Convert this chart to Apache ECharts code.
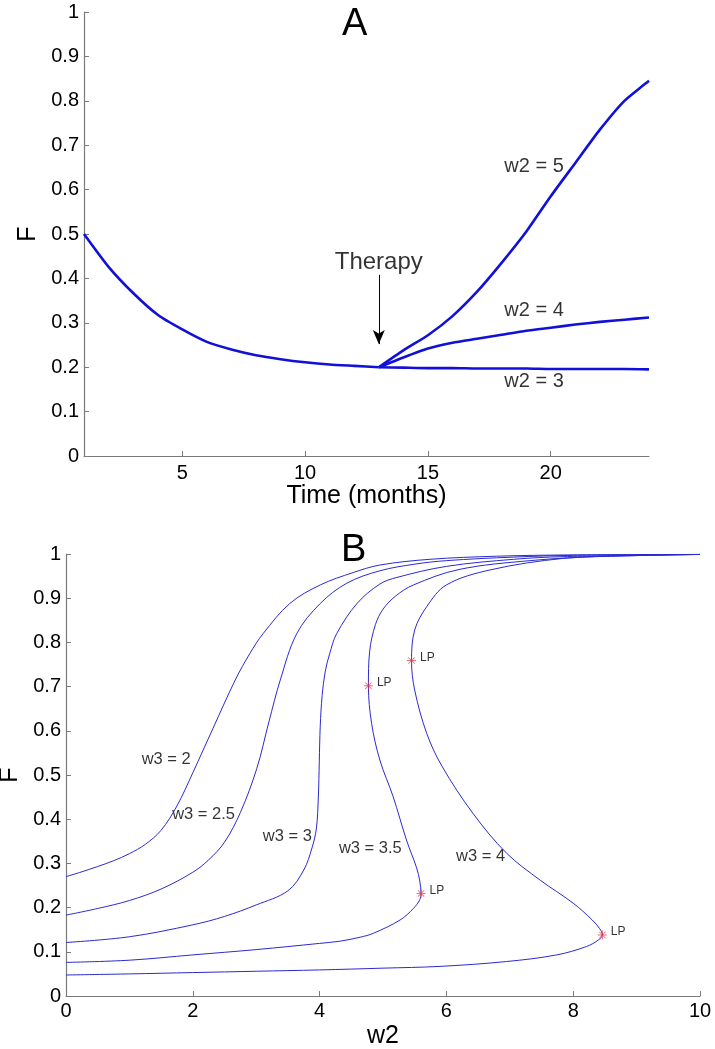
<!DOCTYPE html>
<html>
<head>
<meta charset="utf-8">
<script src="https://cdn.jsdelivr.net/npm/echarts@6/dist/echarts.min.js"></script>
<style>
html,body{margin:0;padding:0;background:#fff;}
#chart{width:715px;height:1049px;}
</style>
</head>
<body>
<div id="chart"></div>
<script>
// ---------- Panel A data ----------
var timeBase = [1,2,3,4,5,6,7,8,9,10,11,12,13];
var fBase = [0.500,0.426,0.367,0.318,0.285,0.257,0.240,0.227,0.218,0.211,0.206,0.203,0.200];
var timeTherapy = [13,14,15,16,17,18,19,20,21,22,23,24];
var fW2eq3 = [0.200,0.199,0.198,0.198,0.197,0.197,0.197,0.196,0.196,0.196,0.196,0.195];
var fW2eq4 = [0.200,0.222,0.242,0.255,0.264,0.273,0.282,0.289,0.296,0.302,0.307,0.312];
var fW2eq5 = [0.200,0.238,0.272,0.315,0.370,0.435,0.505,0.585,0.660,0.735,0.800,0.845];
var xTicksA = [5,10,15,20];
var labelsA = [[19.32,0.651,'w2 = 5'],[19.32,0.327,'w2 = 4'],[19.32,0.167,'w2 = 3'],[13.0,0.437,'Therapy']];
var therapyArrow = [[13,0.408],[13,0.252]];

// ---------- Panel B data (w2, F) ----------
var w3eq2 = [[0,0.270],[0.25,0.281],[0.5,0.293],[0.75,0.306],[1.0,0.322],[1.25,0.343],[1.5,0.375],[1.75,0.430],[2.0,0.505],[2.32,0.606],[2.67,0.715],[2.9,0.775],[3.11,0.820],[3.53,0.888],[4.01,0.930],[4.53,0.958],[4.95,0.975],[5.74,0.988],[6.79,0.995],[8,0.998],[10,0.999]];
var w3eq25 = [[0,0.183],[0.5,0.198],[1,0.216],[1.5,0.242],[2,0.280],[2.25,0.308],[2.5,0.348],[2.75,0.415],[3.01,0.515],[3.2,0.620],[3.38,0.715],[3.64,0.820],[4.01,0.888],[4.43,0.934],[4.95,0.962],[5.5,0.977],[6.0,0.985],[7.06,0.993],[8,0.997],[10,0.999]];
var w3eq3 = [[0,0.121],[1,0.134],[2,0.161],[2.5,0.180],[3,0.206],[3.5,0.238],[3.75,0.285],[3.88,0.335],[3.95,0.380],[3.98,0.450],[3.995,0.530],[4.01,0.610],[4.04,0.680],[4.09,0.735],[4.16,0.775],[4.27,0.820],[4.59,0.888],[4.95,0.932],[5.22,0.947],[6.0,0.972],[7.06,0.988],[7.84,0.994],[10,0.999]];
var w3eq35 = [[0,0.076],[1,0.081],[2,0.093],[3,0.105],[4,0.119],[4.32,0.124],[4.64,0.133],[4.85,0.142],[5.27,0.172],[5.48,0.198],[5.58,0.218],[5.60,0.232],[5.58,0.260],[5.53,0.290],[5.37,0.353],[5.16,0.451],[4.95,0.534],[4.82,0.617],[4.77,0.702],[4.79,0.780],[4.88,0.840],[5.0,0.875],[5.2,0.905],[5.48,0.930],[6.2,0.965],[7.32,0.985],[8.37,0.994],[10,0.999]];
var w3eq4 = [[0,0.0475],[1,0.050],[2,0.053],[3,0.056],[4,0.059],[5,0.063],[5.9,0.067],[6.95,0.078],[7.74,0.093],[8.21,0.112],[8.40,0.127],[8.46,0.138],[8.42,0.152],[8.30,0.172],[8.0,0.210],[7.48,0.262],[6.95,0.323],[6.42,0.413],[5.93,0.520],[5.69,0.594],[5.50,0.692],[5.45,0.759],[5.50,0.828],[5.69,0.881],[6.0,0.930],[6.69,0.964],[7.84,0.990],[8.9,0.996],[10,0.999]];
var lpPoints = [[4.77,0.702],[5.45,0.759],[5.60,0.232],[8.46,0.138]];
var labelsB = [[1.58,0.536,'w3 = 2'],[2.17,0.410,'w3 = 2.5'],[3.49,0.360,'w3 = 3'],[4.80,0.334,'w3 = 3.5'],[6.54,0.315,'w3 = 4']];

var FONT = 'Liberation Sans, Arial, Helvetica, sans-serif';
var AXIS_COLOR = '#7a7a7a';
var BLUE_A = '#1010d8';
var BLUE_B = '#2a2ad0';

function zip(xs, ys){ return xs.map(function(x,i){ return [x, ys[i]]; }); }

var asterisk = 'path://M9,0h2v20h-2z M0,9h20v2h-20z M2.2,3.6l1.4,-1.4l14.2,14.2l-1.4,1.4z M3.6,17.8l-1.4,-1.4l14.2,-14.2l1.4,1.4z';

function axisCommon(){
  return {
    axisLine:{show:true, onZero:false, lineStyle:{color:AXIS_COLOR, width:1.2}},
    axisTick:{show:true, inside:true, length:5, lineStyle:{color:AXIS_COLOR}},
    splitLine:{show:false}
  };
}

var xA = Object.assign(axisCommon(), {
  type:'value', gridIndex:0, min:1, max:24,
  name:'Time (months)', nameLocation:'middle', nameGap:28,
  nameTextStyle:{fontFamily:FONT, fontSize:25, color:'#000'},
  axisLabel:{customValues:xTicksA, fontFamily:FONT, fontSize:20, color:'#000', margin:7}
});
xA.axisTick.customValues = xTicksA;

var yA = Object.assign(axisCommon(), {
  type:'value', gridIndex:0, min:0, max:1, interval:0.1,
  name:'F', nameLocation:'middle', nameGap:31, nameRotate:90,
  nameTextStyle:{fontFamily:FONT, fontSize:25, color:'#000'},
  axisLabel:{fontFamily:FONT, fontSize:20, color:'#000', margin:5}
});

var xB = Object.assign(axisCommon(), {
  type:'value', gridIndex:1, min:0, max:10, interval:2,
  name:'w2', nameLocation:'middle', nameGap:28,
  nameTextStyle:{fontFamily:FONT, fontSize:25, color:'#000'},
  axisLabel:{fontFamily:FONT, fontSize:20, color:'#000', margin:5}
});

var yB = Object.assign(axisCommon(), {
  type:'value', gridIndex:1, min:0, max:1, interval:0.1,
  name:'F', nameLocation:'middle', nameGap:40, nameRotate:90,
  nameTextStyle:{fontFamily:FONT, fontSize:25, color:'#000'},
  axisLabel:{fontFamily:FONT, fontSize:20, color:'#000', margin:5}
});

function lineA(data, extra){
  return Object.assign({
    type:'line', xAxisIndex:0, yAxisIndex:0, data:data, showSymbol:false, symbol:'none',
    smooth:0.2, lineStyle:{color:BLUE_A, width:2.6}, z:3
  }, extra||{});
}
function lineB(data){
  return {
    type:'line', xAxisIndex:1, yAxisIndex:1, data:data, showSymbol:false, symbol:'none',
    smooth:0.35, lineStyle:{color:BLUE_B, width:1}, z:3
  };
}

var option = {
  animation:false,
  backgroundColor:'#fff',
  title:[
    {text:'A', left:342, top:6, padding:0, textStyle:{fontFamily:FONT, fontSize:38, fontWeight:'normal', color:'#000'}},
    {text:'B', left:341, top:532, padding:0, textStyle:{fontFamily:FONT, fontSize:38, fontWeight:'normal', color:'#000'}}
  ],
  grid:[
    {left:84, top:12, width:565, height:444, outerBoundsMode:'none', containLabel:false},
    {left:66, top:554, width:634, height:442, outerBoundsMode:'none', containLabel:false}
  ],
  xAxis:[xA, xB],
  yAxis:[yA, yB],
  series:[
    lineA(zip(timeBase, fBase), {
      markLine:{
        silent:true, symbol:['none','arrow'], symbolSize:[9,14],
        lineStyle:{color:'#000', width:1, type:'solid'},
        label:{show:false},
        data:[[{coord:therapyArrow[0]},{coord:therapyArrow[1]}]]
      }
    }),
    lineA(zip(timeTherapy, fW2eq3)),
    lineA(zip(timeTherapy, fW2eq4)),
    lineA(zip(timeTherapy, fW2eq5)),
    {
      type:'scatter', xAxisIndex:0, yAxisIndex:0, symbolSize:0, silent:true,
      data:labelsA.map(function(d){ return {value:[d[0],d[1]], name:d[2], label:{fontSize: d[2]==='Therapy' ? 24 : 20}}; }),
      label:{show:true, position:'inside', formatter:function(p){return p.name;}, fontFamily:FONT, color:'#000'}
    },
    lineB(w3eq2), lineB(w3eq25), lineB(w3eq3), lineB(w3eq35), lineB(w3eq4),
    {
      type:'scatter', xAxisIndex:1, yAxisIndex:1, symbol:asterisk, symbolSize:9, silent:true, z:5,
      itemStyle:{color:'rgba(240,40,60,0.85)'},
      data:lpPoints,
      label:{show:true, position:'right', distance:4, offset:[0,-3], formatter:'LP', fontFamily:FONT, fontSize:12, color:'#000'}
    },
    {
      type:'scatter', xAxisIndex:1, yAxisIndex:1, symbolSize:0, silent:true,
      data:labelsB.map(function(d){ return {value:[d[0],d[1]], name:d[2]}; }),
      label:{show:true, position:'inside', formatter:function(p){return p.name;}, fontFamily:FONT, fontSize:16.5, color:'#000'}
    }
  ]
};

var chart = echarts.init(document.getElementById('chart'), null, {renderer:'canvas'});
chart.setOption(option);
</script>
</body>
</html>
